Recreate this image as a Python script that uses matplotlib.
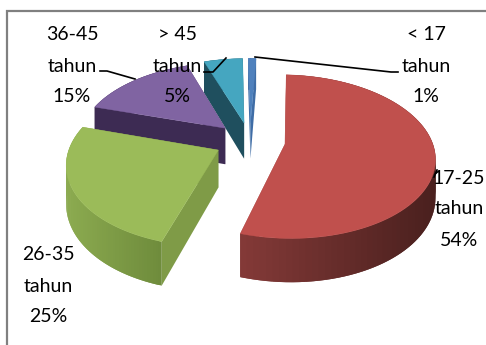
import numpy as np
import matplotlib
matplotlib.use('Agg')
import matplotlib.pyplot as plt
from matplotlib.colors import to_rgb
from matplotlib.patches import Polygon

plt.rcParams['font.family'] = ['Lato', 'DejaVu Sans']

# --- DATA ---
categories = ['< 17', '17-25', '26-35', '36-45', '> 45']
shares = [1, 54, 25, 15, 5]
top_colors = ['#4F81BD', '#C0504D', '#9BBB59', '#8064A2', '#45A6C0']
side_left = ['#3F6DA6', '#853A38', '#8CAB50', '#3D2B53', '#1F4F5E']
side_right = ['#3F6DA6', '#4A201E', '#6F8C3C', '#3D2B53', '#1F4F5E']
radial_colors = ['#3F6DA6', '#853A38', '#7F9B47', '#3D2B53', '#1F4F5E']

label_centers = [(426, 35), (459, 178), (48, 255), (72, 35), (177, 35)]
leaders = [
    [(398, 72), (391, 72), (255, 57)],
    [(434, 177), (437, 170)],
    [],
    [(100, 71), (107, 71), (135, 79)],
    [(204, 72), (213, 72), (226, 58)],
]

# Pie geometry in pixels
CX, CY = 250, 141
RX, RY = 147, 79
PERSP = 0.15
EXPLODE = 0.24
DEPTH = 37
START_ANGLE = -1
LINE_STEP = 31


def project(u, v, drop=0.0):
    # disc coordinates to the page, nearer points (v > 0) come out larger
    s = 1 / (1 - PERSP * v)
    return CX + RX * u * s, CY + (RY * v + drop) * s


def mix(c1, c2, t):
    a, b = np.array(to_rgb(c1)), np.array(to_rgb(c2))
    return tuple(a + (b - a) * t)


def draw_slice(ax, start, end, top, left, right, radial):
    mid = np.radians((start + end) / 2)
    off_u, off_v = EXPLODE * np.sin(mid), -EXPLODE * np.cos(mid)
    angles = np.radians(np.linspace(start, end, 90))
    rim_u = off_u + np.sin(angles)
    rim_v = off_v - np.cos(angles)

    # inner walls go first, the top face hides whatever is out of sight
    apex = project(off_u, off_v)
    apex_low = project(off_u, off_v, DEPTH)
    for i in (0, -1):
        p = project(rim_u[i], rim_v[i])
        q = project(rim_u[i], rim_v[i], DEPTH)
        ax.add_patch(Polygon([apex, p, q, apex_low], fc=radial, ec='none'))

    # outer wall, shaded in small steps from left to right
    # each step overlaps the next one so no seams show
    xs = [project(a, b)[0] for a, b in zip(rim_u, rim_v)]
    x0, x1 = min(xs), max(xs)
    n = len(angles)
    for i in range(n - 1):
        j = min(i + 2, n - 1)
        t = (xs[i] - x0) / max(x1 - x0, 1)
        c = mix(left, right, t)
        quad = [project(rim_u[i], rim_v[i]), project(rim_u[j], rim_v[j]),
                project(rim_u[j], rim_v[j], DEPTH), project(rim_u[i], rim_v[i], DEPTH)]
        ax.add_patch(Polygon(quad, fc=c, ec='none'))

    outline = [apex] + [project(a, b) for a, b in zip(rim_u, rim_v)]
    ax.add_patch(Polygon(outline, fc=top, ec=top, lw=0.3))


fig = plt.figure(figsize=(4.86, 3.45), dpi=100)
ax = fig.add_axes([0, 0, 1, 1])
ax.set_xlim(0, 486)
ax.set_ylim(345, 0)
ax.axis('off')

# Frame only shows on the top and left
ax.plot([486, 6.5, 6.5], [11, 11, 345], color='#808080', lw=1.6, solid_joinstyle='miter')

# Slices run clockwise from just before twelve o'clock
total = sum(shares)
sweeps = [s / total * 360 for s in shares]
edges = START_ANGLE + np.cumsum([0] + sweeps)
for i in [0, 4, 3, 2, 1]:
    draw_slice(ax, edges[i], edges[i + 1], top_colors[i], side_left[i], side_right[i], radial_colors[i])

for line in leaders:
    if line:
        ax.plot(*zip(*line), color='black', lw=1.2)

for name, share, (x, y) in zip(categories, shares, label_centers):
    rows = [name, 'tahun', f'{share}%']
    for j, row in enumerate(rows):
        ax.text(x, y + j * LINE_STEP, row, ha='center', va='center', fontsize=14, color='black')

fig.savefig('out.png', dpi=100)
